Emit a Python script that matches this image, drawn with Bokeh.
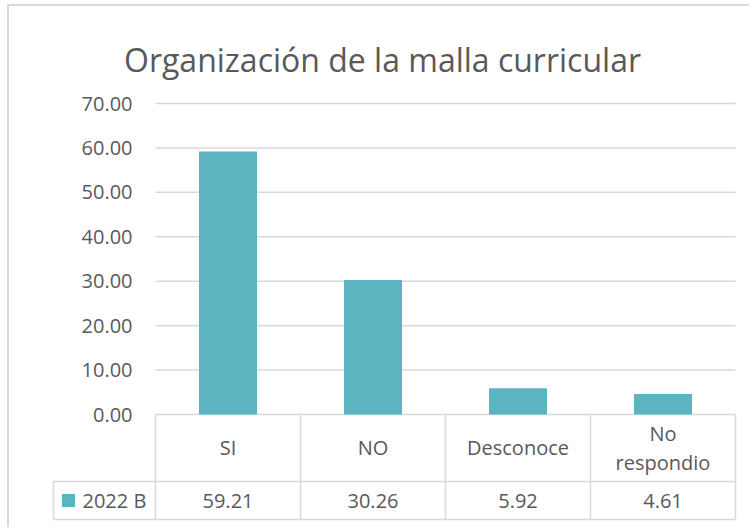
import numpy as np
from bokeh.plotting import figure
from bokeh.models import Range1d
from bokeh.core.properties import value
from bokeh.embed import file_html
from bokeh.resources import INLINE

# ---- data ----
categories = ["SI", "NO", "Desconoce", "No respondio"]
values = [59.21, 30.26, 5.92, 4.61]
series_name = "2022 B"
y_ticks = [0, 10, 20, 30, 40, 50, 60, 70]
title_text = "Organización de la malla curricular"

BAR = "#5BB5C0"
TXT = "#595959"
GRID = "#D9D9D9"
FONT = "Open Sans"

n = len(categories)
xc = np.arange(n) + 0.5
xb = np.arange(n + 1)

# ---- layout geometry (page pixels) ----
OX, OY = 9, 6             # content origin after css margin + border
R, B = 751, 529           # right / bottom page edge
col_px = 145.0            # width of one category column
k = 311.0 / 70.0          # px per y unit
X0 = 155                  # page x of first column boundary
Y0 = 414                  # page y of value 0


def vx(page_x):
    return (page_x - X0) / col_px


def vy(page_y):
    return (Y0 - page_y) / k


p = figure(width=R - OX, height=B - OY,
           x_range=Range1d(vx(OX), vx(R)), y_range=Range1d(vy(B), vy(OY)),
           output_backend="svg", toolbar_location=None,
           x_axis_location=None, y_axis_location=None,
           min_border_left=0, min_border_right=0, min_border_top=0, min_border_bottom=0)
p.outline_line_color = None
p.grid.visible = False

# ---- title ----
p.text(x=[vx(382)], y=[vy(59)], text=[title_text], text_align="center",
       text_baseline="alphabetic", text_font=value(FONT), text_font_size="32px",
       text_color=TXT)

# ---- gridlines + value-axis labels ----
p.segment(x0=[0] * len(y_ticks), y0=y_ticks, x1=[n] * len(y_ticks), y1=y_ticks,
          line_color=GRID, line_width=1.5)
p.text(x=[vx(132)] * len(y_ticks), y=y_ticks, text=["{:.2f}".format(t) for t in y_ticks],
       text_align="right", text_baseline="middle", text_font=value(FONT),
       text_font_size="20px", text_color=TXT)

# ---- bars ----
p.vbar(x=xc, top=values, bottom=0, width=0.4, fill_color=BAR, line_color=None)

# ---- data table ----
left_x = vx(53)
row_top = 0
row_mid = vy(481)
row_bot = vy(519)
p.segment(x0=xb, y0=[row_bot] * (n + 1), x1=xb, y1=[row_top] * (n + 1),
          line_color=GRID, line_width=1.5)
p.segment(x0=[left_x], y0=[row_bot], x1=[left_x], y1=[row_mid],
          line_color=GRID, line_width=1.5)
p.segment(x0=[left_x, left_x], y0=[row_mid, row_bot], x1=[n, n], y1=[row_mid, row_bot],
          line_color=GRID, line_width=1.5)

# category labels (wrap long ones onto two lines)
lx, ly, lt = [], [], []
for xi, cat in zip(xc, categories):
    if len(cat) > 10 and " " in cat:
        a, b = cat.split(" ", 1)
        lx += [xi, xi]
        ly += [vy(433), vy(462)]
        lt += [a, b]
    else:
        lx.append(xi)
        ly.append(vy(447))
        lt.append(cat)
p.text(x=lx, y=ly, text=lt, text_align="center", text_baseline="middle",
       text_font=value(FONT), text_font_size="20px", text_color=TXT)

p.text(x=xc, y=[vy(500)] * n, text=["{:.2f}".format(v) for v in values],
       text_align="center", text_baseline="middle",
       text_font=value(FONT), text_font_size="20px", text_color=TXT)
p.scatter(x=[vx(68)], y=[vy(500)], marker="square", size=13,
          fill_color=BAR, line_color=None)
p.text(x=[vx(82)], y=[vy(500)], text=[series_name],
       text_align="left", text_baseline="middle",
       text_font=value(FONT), text_font_size="20px", text_color=TXT)

p.styles = {"margin-left": "7px", "margin-top": "4px",
            "border-left": "2px solid #D9D9D9", "border-top": "2px solid #D9D9D9"}

open("out.html", "w").write(file_html(p, INLINE))
